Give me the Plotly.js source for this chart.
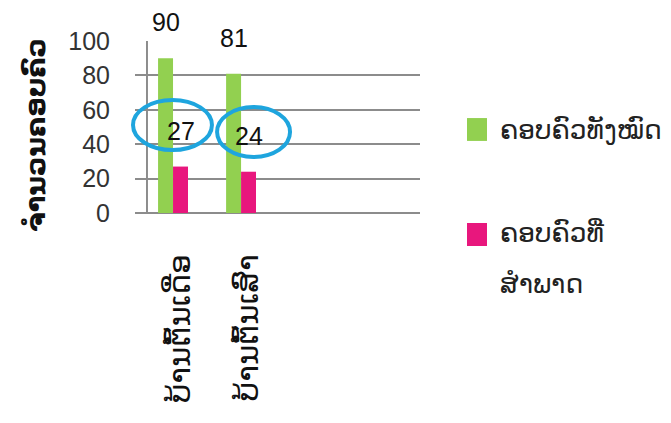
<!DOCTYPE html>
<html>
<head>
<meta charset="utf-8">
<script src="https://cdn.plot.ly/plotly-3.0.1.min.js"></script>
<style>html,body{margin:0;padding:0;background:#fff;}#chart{width:671px;height:423px;}</style>
</head>
<body>
<div id="chart"></div>
<script>
// ---- data ----
const categories = ["ບ້ານຕົ້ນເດື່ອ", "ບ້ານຕົ້ນເສົາ"];
const seriesNames = ["ຄອບຄົວທັງໝົດ", "ຄອບຄົວທີ່ສຳພາດ"];
const legendLines = [["ຄອບຄົວທັງໝົດ"], ["ຄອບຄົວທີ່", "ສຳພາດ"]];
const totalFamilies = [90, 81];
const interviewedFamilies = [27, 24];
const yTickValues = [0, 20, 40, 60, 80, 100];
const yTitle = "ຈຳນວນຄອບຄົວ";

// ---- styling ----
const colors = ["#92D050", "#E8177D"];
const ringColor = "#1EA5DE";
const lao = "DejaVu Sans, sans-serif";
const num = "Liberation Sans, Arial, sans-serif";
const bargap = 0.56;
const barW = (1 - bargap) / 2;

const traces = [totalFamilies, interviewedFamilies].map((vals, k) => ({
  type: "bar",
  name: seriesNames[k],
  x: categories.map((c, i) => i),
  y: vals,
  marker: {color: colors[k]},
  hoverinfo: "y+name"
}));

const annotations = [];
[totalFamilies, interviewedFamilies].forEach((vals, k) => {
  vals.forEach((v, i) => {
    annotations.push({
      xref: "x", yref: "y", x: i + (k === 0 ? -barW / 2 : barW / 2), y: v,
      text: String(v), showarrow: false, yshift: 36,
      font: {family: num, size: 25, color: "#111"}
    });
  });
});
// y axis title
annotations.push({
  xref: "paper", yref: "paper", x: -0.41, y: 0.45, textangle: -90,
  text: "<b>" + yTitle + "</b>", showarrow: false,
  font: {family: lao, size: 27, color: "#111"}
});
// legend
const legendY = [[0.483], [-0.116, -0.407]];
const shapes = [];
const legendBoxes = [[0.419, 0.552], [-0.192, -0.058]];
legendLines.forEach((lines, k) => {
  shapes.push({type: "rect", xref: "paper", yref: "paper",
    x0: 1.165, x1: 1.235, y0: legendBoxes[k][0], y1: legendBoxes[k][1],
    fillcolor: colors[k], line: {width: 0}});
  lines.forEach((t, j) => {
    annotations.push({xref: "paper", yref: "paper", x: 1.274, y: legendY[k][j],
      xanchor: "left", yanchor: "middle", text: t, showarrow: false,
      font: {family: lao, size: 26.5, color: "#222"}});
  });
});
// vertical axis line
shapes.push({type: "line", xref: "paper", yref: "paper", x0: 0.042, x1: 0.042, y0: 0, y1: 1,
  line: {color: "#8c8c8c", width: 2}, layer: "below"});
// highlight rings
shapes.push({type: "circle", xref: "paper", yref: "paper", x0: -0.007, x1: 0.270, y0: 0.366, y1: 0.657,
  line: {color: ringColor, width: 4}});
shapes.push({type: "circle", xref: "paper", yref: "paper", x0: 0.288, x1: 0.544, y0: 0.326, y1: 0.616,
  line: {color: ringColor, width: 4}});

const layout = {
  width: 671, height: 423,
  margin: {l: 135, r: 251, t: 41, b: 210},
  paper_bgcolor: "#fff", plot_bgcolor: "#fff",
  barmode: "group", bargap: bargap, bargroupgap: 0,
  showlegend: false,
  xaxis: {
    range: [-0.559, 3.63], tickmode: "array",
    tickvals: categories.map((c, i) => i), ticktext: categories,
    tickangle: -90, ticklabelstandoff: 34, ticklabelshift: 7,
    showgrid: false, zeroline: false, showline: false, ticks: "",
    tickfont: {family: lao, size: 31, color: "#111"}
  },
  yaxis: {
    range: [0, 100], tickvals: yTickValues, ticktext: yTickValues.map(String),
    showgrid: true, gridcolor: "#8c8c8c", gridwidth: 2,
    zeroline: true, zerolinecolor: "#8c8c8c", zerolinewidth: 2,
    showline: false, ticks: "", ticklabelstandoff: 24,
    tickfont: {family: num, size: 25, color: "#333"}
  },
  annotations: annotations,
  shapes: shapes
};

Plotly.newPlot("chart", traces, layout, {displayModeBar: false, staticPlot: true});
</script>
</body>
</html>
